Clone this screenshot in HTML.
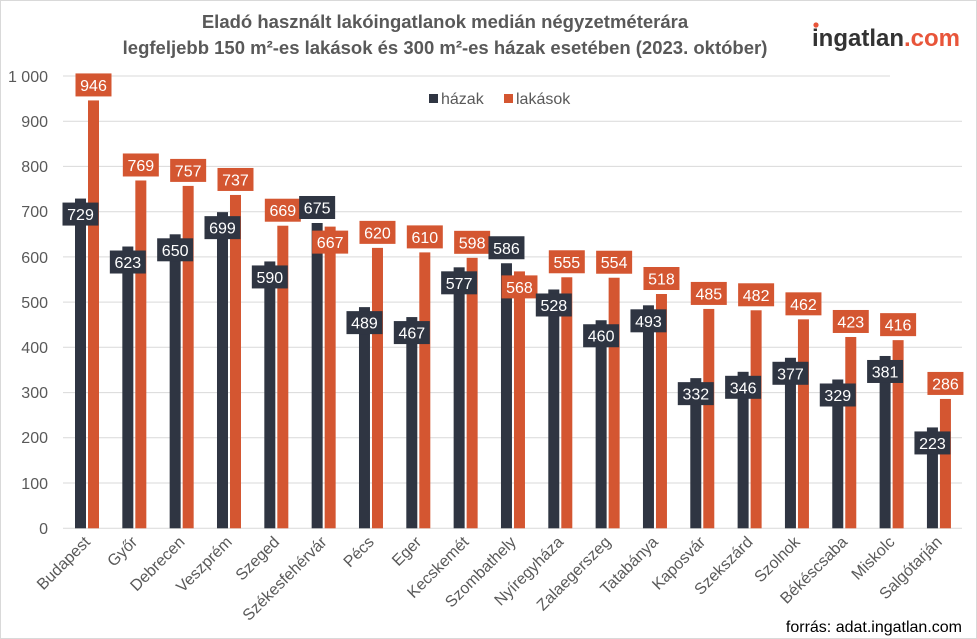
<!DOCTYPE html>
<html><head><meta charset="utf-8"><style>
html,body{margin:0;padding:0;background:#fff}
svg{display:block;font-family:"Liberation Sans",Arial,sans-serif}
</style></head><body>
<svg width="977" height="639" viewBox="0 0 977 639" xmlns="http://www.w3.org/2000/svg">
<rect x="0.5" y="0.5" width="976" height="638" fill="#fff" stroke="#d9d9d9"/>
<text x="445" y="28" text-anchor="middle" font-size="18.5" font-weight="bold" fill="#595959">Eladó használt lakóingatlanok medián négyzetméterára</text>
<text x="445" y="54" text-anchor="middle" font-size="18.5" font-weight="bold" fill="#595959">legfeljebb 150 m²-es lakások és 300 m²-es házak esetében (2023. október)</text>
<text x="812" y="46" font-size="24" font-weight="bold" fill="#333" textLength="148"><tspan>ingatlan</tspan><tspan fill="#e8553a">.com</tspan></text>
<circle cx="816" cy="25" r="2.6" fill="#e8553a"/>
<g stroke="#d9d9d9" stroke-width="1">
<line x1="63" x2="890" y1="76" y2="76"/>
<line x1="63" x2="962" y1="121.2" y2="121.2"/>
<line x1="63" x2="962" y1="166.4" y2="166.4"/>
<line x1="63" x2="962" y1="211.7" y2="211.7"/>
<line x1="63" x2="962" y1="256.9" y2="256.9"/>
<line x1="63" x2="962" y1="302.1" y2="302.1"/>
<line x1="63" x2="962" y1="347.3" y2="347.3"/>
<line x1="63" x2="962" y1="392.6" y2="392.6"/>
<line x1="63" x2="962" y1="437.8" y2="437.8"/>
<line x1="63" x2="962" y1="483" y2="483"/>
<line x1="63" x2="962" y1="528.3" y2="528.3"/>
</g>
<g font-size="16" fill="#595959" text-anchor="end">
<text x="48" y="82">1 000</text><text x="48" y="127">900</text><text x="48" y="172">800</text><text x="48" y="217">700</text><text x="48" y="263">600</text><text x="48" y="308">500</text><text x="48" y="353">400</text><text x="48" y="398">300</text><text x="48" y="443">200</text><text x="48" y="489">100</text><text x="48" y="534">0</text>
</g>
<rect x="429" y="94" width="9" height="9" fill="#2f3542"/><text x="441" y="104" font-size="16" fill="#595959">házak</text>
<rect x="504" y="94" width="9" height="9" fill="#d45631"/><text x="516" y="104" font-size="16" fill="#595959">lakások</text>
<g id="bars"></g>
<text x="962" y="632" text-anchor="end" font-size="16" fill="#000">forrás: adat.ingatlan.com</text>
</svg>
<script>
var names=["Budapest","Győr","Debrecen","Veszprém","Szeged","Székesfehérvár","Pécs","Eger","Kecskemét","Szombathely","Nyíregyháza","Zalaegerszeg","Tatabánya","Kaposvár","Szekszárd","Szolnok","Békéscsaba","Miskolc","Salgótarján"];
var d=[729,623,650,699,590,675,489,467,577,586,528,460,493,332,346,377,329,381,223];
var o=[946,769,757,737,669,667,620,610,598,568,555,554,518,485,482,462,423,416,286];
var s="",y0=528.3,k=0.4523;
function lab(cx,top,v,above,col){var bw=36,bh=23,by=above?top-4-bh:top+4;
return '<rect x="'+(cx-bw/2)+'" y="'+by+'" width="'+bw+'" height="'+bh+'" fill="'+col+'"/><text x="'+cx+'" y="'+(by+17.5)+'" text-anchor="middle" font-size="16" fill="#fff">'+v+'</text>';}
for(var i=0;i<19;i++){var x=75+47.33*i;var hd=d[i]*k,ho=o[i]*k;
s+='<rect x="'+x+'" y="'+(y0-hd)+'" width="11" height="'+hd+'" fill="#2f3542"/>';
s+='<rect x="'+(x+13)+'" y="'+(y0-ho)+'" width="11" height="'+ho+'" fill="#d45631"/>';}
for(var i=0;i<19;i++){var x=75+47.33*i;var hd=d[i]*k,ho=o[i]*k;var dUp=d[i]>o[i];
s+=lab(x+5.5,y0-hd,d[i],dUp,"#2f3542");
s+=lab(x+18.5,y0-ho,o[i],!dUp,"#d45631");
var ax=x+16,ay=543;
s+='<text x="'+ax+'" y="'+ay+'" text-anchor="end" font-size="16" fill="#595959" transform="rotate(-45 '+ax+' '+ay+')">'+names[i]+'</text>';}
document.getElementById("bars").innerHTML=s;
</script>
</body></html>
